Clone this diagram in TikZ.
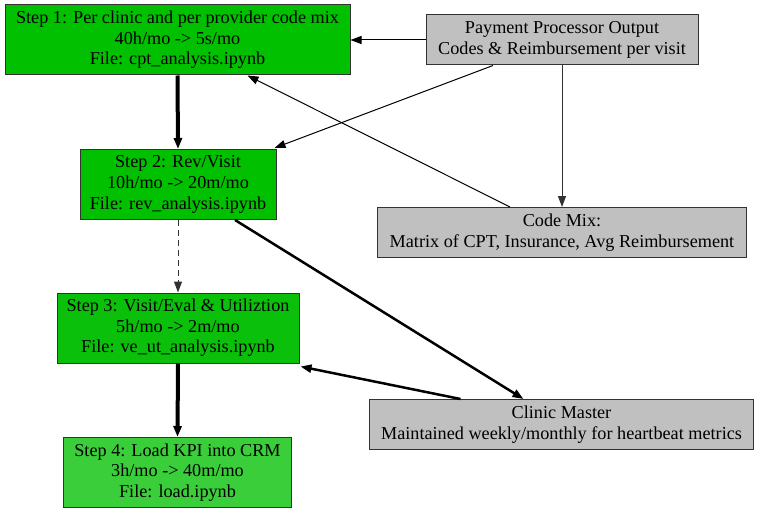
\documentclass[tikz,border=0pt]{standalone}
\usepackage{fontspec}
\setmainfont{Liberation Serif}
\usetikzlibrary{arrows.meta}
\definecolor{gA}{RGB}{0,192,0}
\definecolor{gB}{RGB}{10,192,10}
\definecolor{gC}{RGB}{58,206,58}
\definecolor{gr}{RGB}{192,192,192}
\definecolor{bd}{RGB}{50,50,50}
\tikzset{
  box/.style={draw=bd, line width=1pt, rectangle, align=center, inner sep=0pt,
    font=\rmfamily\fontsize{18.2}{20.6}\selectfont},
  tip/.style={-{Triangle[length=11pt,width=8pt]}},
  e1/.style={tip, line width=1pt, black},
  e2/.style={tip, line width=2.5pt, black},
  e3/.style={tip, line width=4pt, black},
}
\begin{document}
\begin{tikzpicture}[x=1pt,y=-1pt]
\useasboundingbox (0,0) rectangle (759,513);
\node[box, fill=gA, minimum width=345, minimum height=70] (s1) at (177.5,40) {Step 1: Per clinic and per provider code mix\\40h/mo -> 5s/mo\\File: cpt\_analysis.ipynb};
\node[box, fill=gr, minimum width=272, minimum height=50] (pay) at (562,40) {Payment Processor Output\\Codes \& Reimbursement per visit};
\node[box, fill=gA, minimum width=196, minimum height=70] (s2) at (178,184.5) {Step 2: Rev/Visit\\10h/mo -> 20m/mo\\File: rev\_analysis.ipynb};
\node[box, fill=gr, minimum width=369, minimum height=50] (code) at (562,232.5) {Code Mix:\\Matrix of CPT, Insurance, Avg Reimbursement};
\node[box, fill=gB, minimum width=242, minimum height=70] (s3) at (178,328) {Step 3: Visit/Eval \& Utiliztion\\5h/mo -> 2m/mo\\File: ve\_ut\_analysis.ipynb};
\node[box, fill=gr, minimum width=384, minimum height=50] (cm) at (561.5,424.5) {Clinic Master\\Maintained weekly/monthly for heartbeat metrics};
\node[box, fill=gC, minimum width=228, minimum height=70] (s4) at (177.5,472.5) {Step 4: Load KPI into CRM\\3h/mo -> 40m/mo\\File: load.ipynb};

\draw[e1] (pay.west) -- (s1.east);
\draw[e1] ([xshift=-69]pay.south) -- ([xshift=-2,yshift=1]s2.north east);
\draw[e1, draw=bd] (pay.south) -- (code.north);
\draw[e1] ([xshift=-52]code.north) -- ([xshift=70]s1.south);
\draw[e3] (s1.south) -- (s2.north);
\draw[tip, line width=1pt, draw=bd, dash pattern=on 6pt off 4pt] (s2.south) -- (s3.north);
\draw[e2] ([xshift=57]s2.south) -- ([xshift=-38]cm.north);
\draw[e2] ([xshift=-101]cm.north) -- ([xshift=1,yshift=-3]s3.south east);
\draw[e3] (s3.south) -- (s4.north);
\end{tikzpicture}
\end{document}
